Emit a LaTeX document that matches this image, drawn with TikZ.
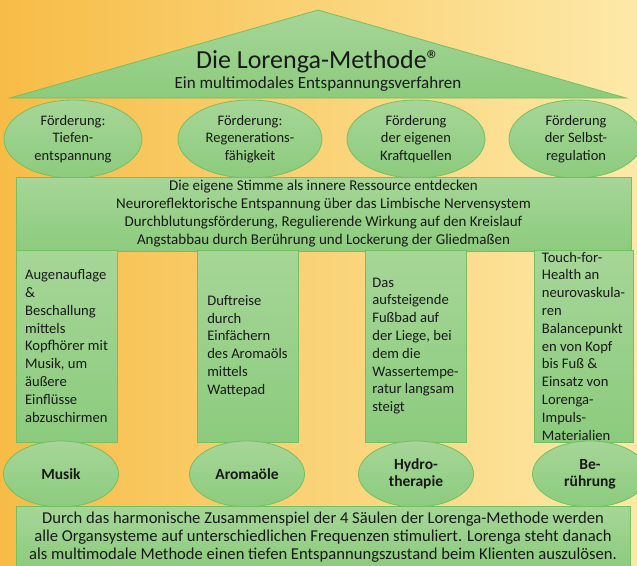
\documentclass[tikz,border=0pt]{standalone}
\usepackage{fontspec}
\setmainfont{Carlito}
\usetikzlibrary{shapes.geometric,positioning}
\definecolor{bgleft}{RGB}{247,188,70}
\definecolor{bgmid}{RGB}{251,212,120}
\definecolor{bgright}{RGB}{253,233,168}
\definecolor{leaf}{RGB}{166,214,152}
\definecolor{leafdark}{RGB}{140,203,125}
\definecolor{rim}{RGB}{116,191,96}
\definecolor{ink}{RGB}{25,25,25}

\begin{document}
\begin{tikzpicture}[x=1pt,y=-1pt,
		every node/.style={text=ink},
		greenfill/.style={
		  draw=rim,
		  line width=0.8pt,
		  top color=leaf,
		  bottom color=leafdark
		},
		goal/.style={
		  greenfill,
		  ellipse,
		  minimum width=138pt,
		  minimum height=78pt,
		  inner sep=0pt,
		  align=center,
		  font=\fontsize{14.5}{17.5}\selectfont
		},
		pillar/.style={
		  greenfill,
		  rectangle,
		  inner sep=0pt,
		  minimum width=101pt,
		  minimum height=192pt,
		  align=left,
		  font=\fontsize{14.6}{17.8}\selectfont
		},
		base/.style={
		  greenfill,
		  ellipse,
		  minimum width=115pt,
		  minimum height=66pt,
		  inner sep=0pt,
		  align=center,
		  font=\bfseries\fontsize{15.5}{17}\selectfont
		},
		band/.style={
		  greenfill,
		  rectangle,
		  inner sep=0pt,
		  align=center
		}
		]
		% background
		\fill[left color=bgleft,middle color=bgmid,right color=bgright]
		  (0,0) rectangle (637,565);
		\useasboundingbox (0,0) rectangle (637,565);

		% roof
		\coordinate (apex) at (318,10);
		\coordinate (eaveL) at (10,98);
		\coordinate (eaveR) at (626,98);
		\draw[greenfill] (eaveL) -- (apex) -- (eaveR) -- cycle;
		\node[font=\fontsize{26}{29}\selectfont] (title) at (318,62)
		  {Die Lorenga-Methode®};
		\node[font=\fontsize{17}{20}\selectfont,below=-4pt of title] (subtitle)
		  {Ein multimodales Entspannungsverfahren};

		% aims
		\node[goal] (aim1) at (73,139) {Förderung:\\Tiefen-\\entspannung};
		\node[goal,minimum width=144pt] (aim2) at (250,139) {Förderung:\\Regenerations-\\fähigkeit};
		\node[goal] (aim3) at (416,139) {Förderung\\der eigenen\\Kraftquellen};
		\node[goal,minimum width=134pt] (aim4) at (576,139) {Förderung\\der Selbst-\\regulation};

		% effects
		\node[band,minimum width=615pt,minimum height=74pt,
		  font=\fontsize{15}{18}\selectfont] (effects) at (323.5,214)
		  {Die eigene Stimme als innere Ressource entdecken\\
		   Neuroreflektorische Entspannung über das Limbische Nervensystem\\
		   Durchblutungsförderung, Regulierende Wirkung auf den Kreislauf\\
		   Angstabbau durch Berührung und Lockerung der Gliedmaßen};

		% pillars
		\node[pillar] (col1) at (66.5,346)
		  {Augenauflage\\\&\\Beschallung\\mittels\\Kopfhörer mit\\Musik, um\\äußere\\Einflüsse\\abzuschirmen};
		\node[pillar] (col2) at (247.5,346)
		  {Duftreise\\durch\\Einfächern\\des Aromaöls\\mittels\\Wattepad};
		\node[pillar] (col3) at (415.5,346)
		  {Das\\aufsteigende\\Fußbad auf\\der Liege, bei\\dem die\\Wassertempe-\\ratur langsam\\steigt};
		\node[pillar,minimum width=99pt] (col4) at (583.5,346)
		  {Touch-for-\\Health an\\neurovaskula-\\ren\\Balancepunkt\\en von Kopf\\bis Fuß \&\\Einsatz von\\Lorenga-\\Impuls-\\Materialien};

		% bases
		\node[base] (foot1) at (61,474) {Musik};
		\node[base] (foot2) at (247,474) {Aromaöle};
		\node[base] (foot3) at (416,474) {Hydro-\\therapie};
		\node[base] (foot4) at (590,474) {Be-\\rührung};

		% summary
		\node[band,minimum width=614pt,minimum height=62pt,
		  font=\fontsize{16.6}{18}\selectfont] (summary) at (323,537)
		  {Durch das harmonische Zusammenspiel der 4 Säulen der Lorenga-Methode werden\\
		   alle Organsysteme auf unterschiedlichen Frequenzen stimuliert. Lorenga steht danach\\
		   als multimodale Methode einen tiefen Entspannungszustand beim Klienten auszulösen.};
	\end{tikzpicture}
\end{document}
